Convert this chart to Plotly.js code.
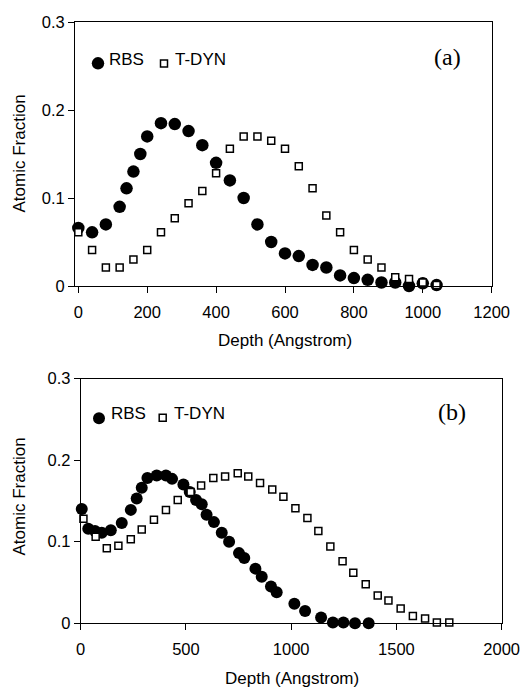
<!DOCTYPE html>
<html>
<head>
<meta charset="utf-8">
<script src="https://cdn.plot.ly/plotly-3.0.1.min.js"></script>
<style>html,body{margin:0;padding:0;background:#fff;}#chart{width:523px;height:687px;}</style>
</head>
<body>
<div id="chart"></div>
<script>
// Panel (a)
var rbsA_x = [0,40,80,120,140,160,180,200,240,280,320,360,400,440,480,520,560,600,640,680,720,760,800,840,880,920,960,1000,1040];
var rbsA_y = [0.066,0.061,0.070,0.090,0.111,0.130,0.150,0.170,0.185,0.184,0.176,0.160,0.140,0.120,0.100,0.070,0.050,0.037,0.034,0.024,0.021,0.012,0.009,0.007,0.004,0.004,0.000,0.003,0.001];
var tdynA_x = [0,40,80,120,160,200,240,280,320,360,400,440,480,520,560,600,640,680,720,760,800,840,880,920,960,1000,1040];
var tdynA_y = [0.061,0.041,0.021,0.021,0.030,0.041,0.061,0.077,0.094,0.108,0.128,0.156,0.170,0.170,0.165,0.156,0.136,0.111,0.080,0.061,0.041,0.030,0.021,0.010,0.008,0.004,0.001];
// Panel (b)
var rbsB_x = [5,36,68,100,143,195,238,266,290,317,361,405,434,488,518,548,575,598,633,670,705,752,777,830,860,904,931,1015,1066,1142,1198,1248,1303,1368];
var rbsB_y = [0.140,0.116,0.113,0.111,0.114,0.123,0.139,0.153,0.166,0.178,0.181,0.181,0.177,0.170,0.161,0.151,0.146,0.133,0.124,0.111,0.100,0.086,0.080,0.067,0.057,0.045,0.038,0.024,0.015,0.007,0.001,0.001,0.000,0.000];
var tdynB_x = [13,71,124,179,238,290,348,405,461,522,572,630,686,746,796,852,910,963,1020,1077,1129,1186,1244,1295,1354,1411,1462,1520,1578,1636,1692,1751];
var tdynB_y = [0.128,0.106,0.092,0.095,0.103,0.115,0.127,0.139,0.151,0.161,0.169,0.178,0.180,0.184,0.180,0.172,0.164,0.155,0.141,0.129,0.113,0.094,0.076,0.062,0.048,0.034,0.028,0.018,0.009,0.006,0.001,0.001];

var seriesNames = ['RBS', 'T-DYN'];
var panelLabels = ['(a)', '(b)'];
var xTitle = 'Depth (Angstrom)';
var yTitle = 'Atomic Fraction';

var W = 523, H = 687;
function px(v){ return v / W; }
function py(v){ return 1 - v / H; }

var FONT = 'Liberation Sans, Arial, sans-serif';
var circleMarker = function(sz){ return {symbol:'circle', size:sz, color:'#000', line:{width:0}}; };
var squareMarker = {symbol:'square', size:7, color:'#fff', line:{width:1.5, color:'#000'}};

var traces = [
  {x:rbsA_x, y:rbsA_y, xaxis:'x', yaxis:'y', mode:'markers', name:seriesNames[0], marker:circleMarker(12.5), cliponaxis:false},
  {x:tdynA_x, y:tdynA_y, xaxis:'x', yaxis:'y', mode:'markers', name:seriesNames[1], marker:squareMarker, cliponaxis:false},
  {x:rbsB_x, y:rbsB_y, xaxis:'x2', yaxis:'y2', mode:'markers', name:seriesNames[0], marker:circleMarker(12), cliponaxis:false},
  {x:tdynB_x, y:tdynB_y, xaxis:'x2', yaxis:'y2', mode:'markers', name:seriesNames[1], marker:squareMarker, cliponaxis:false}
];

var axisCommon = {
  showline:true, linecolor:'#000', linewidth:1, mirror:true,
  ticks:'outside', ticklen:6, tickwidth:1, tickcolor:'#000',
  showgrid:false, zeroline:false,
  tickfont:{family:FONT, size:16.5, color:'#000'}
};
function ax(extra){ return Object.assign({}, axisCommon, extra); }

var layout = {
  width:W, height:H,
  margin:{l:0, r:0, t:0, b:0},
  paper_bgcolor:'#fff', plot_bgcolor:'#fff',
  showlegend:false,
  xaxis: ax({domain:[px(75), px(491.7)], range:[-9.6, 1200], tickmode:'linear', tick0:0, dtick:200, anchor:'y', ticklabelstandoff:5}),
  yaxis: ax({domain:[py(286), py(22)], range:[0, 0.3], tickmode:'linear', tick0:0, dtick:0.1, anchor:'x'}),
  xaxis2: ax({domain:[px(80.7), px(501.7)], range:[0, 2000], tickmode:'linear', tick0:0, dtick:500, anchor:'y2', ticklabelstandoff:5}),
  yaxis2: ax({domain:[py(623.3), py(378.5)], range:[0, 0.3], tickmode:'linear', tick0:0, dtick:0.1, anchor:'x2'}),
  annotations: [
    {text:xTitle, xref:'paper', yref:'paper', x:px(285), y:py(340), xanchor:'center', yanchor:'middle', showarrow:false, font:{family:FONT, size:17, color:'#000'}},
    {text:xTitle, xref:'paper', yref:'paper', x:px(292), y:py(678), xanchor:'center', yanchor:'middle', showarrow:false, font:{family:FONT, size:17, color:'#000'}},
    {text:yTitle, xref:'paper', yref:'paper', x:px(18.5), y:py(154), xanchor:'center', yanchor:'middle', textangle:-90, showarrow:false, font:{family:FONT, size:17, color:'#000'}},
    {text:yTitle, xref:'paper', yref:'paper', x:px(18.5), y:py(497), xanchor:'center', yanchor:'middle', textangle:-90, showarrow:false, font:{family:FONT, size:17, color:'#000'}},
    {text:panelLabels[0], xref:'paper', yref:'paper', x:px(447.5), y:py(57), xanchor:'center', yanchor:'middle', showarrow:false, font:{family:'Liberation Serif, Times New Roman, serif', size:24, color:'#000'}},
    {text:panelLabels[1], xref:'paper', yref:'paper', x:px(452), y:py(412), xanchor:'center', yanchor:'middle', showarrow:false, font:{family:'Liberation Serif, Times New Roman, serif', size:24, color:'#000'}},
    // legend text
    {text:seriesNames[0], xref:'paper', yref:'paper', x:px(106.5), y:py(59.5), xanchor:'left', yanchor:'middle', showarrow:false, font:{family:FONT, size:17, color:'#000'}},
    {text:seriesNames[1], xref:'paper', yref:'paper', x:px(172.5), y:py(59.5), xanchor:'left', yanchor:'middle', showarrow:false, font:{family:FONT, size:17, color:'#000'}},
    {text:seriesNames[0], xref:'paper', yref:'paper', x:px(109), y:py(413), xanchor:'left', yanchor:'middle', showarrow:false, font:{family:FONT, size:17, color:'#000'}},
    {text:seriesNames[1], xref:'paper', yref:'paper', x:px(172), y:py(413), xanchor:'left', yanchor:'middle', showarrow:false, font:{family:FONT, size:17, color:'#000'}}
  ],
  shapes: [
    // legend symbols
    {type:'circle', xref:'paper', yref:'paper', xsizemode:'pixel', ysizemode:'pixel', xanchor:px(98), yanchor:py(63.3), x0:-6.2, x1:6.2, y0:-6.2, y1:6.2, fillcolor:'#000', line:{width:0}},
    {type:'rect', xref:'paper', yref:'paper', xsizemode:'pixel', ysizemode:'pixel', xanchor:px(164), yanchor:py(63.5), x0:-3.5, x1:3.5, y0:-3.5, y1:3.5, fillcolor:'#fff', line:{width:1.5, color:'#000'}},
    {type:'circle', xref:'paper', yref:'paper', xsizemode:'pixel', ysizemode:'pixel', xanchor:px(99), yanchor:py(418.3), x0:-6, x1:6, y0:-6, y1:6, fillcolor:'#000', line:{width:0}},
    {type:'rect', xref:'paper', yref:'paper', xsizemode:'pixel', ysizemode:'pixel', xanchor:px(162.7), yanchor:py(417.7), x0:-3.5, x1:3.5, y0:-3.5, y1:3.5, fillcolor:'#fff', line:{width:1.5, color:'#000'}}
  ]
};

Plotly.newPlot('chart', traces, layout, {staticPlot:true, displayModeBar:false});
</script>
</body>
</html>
